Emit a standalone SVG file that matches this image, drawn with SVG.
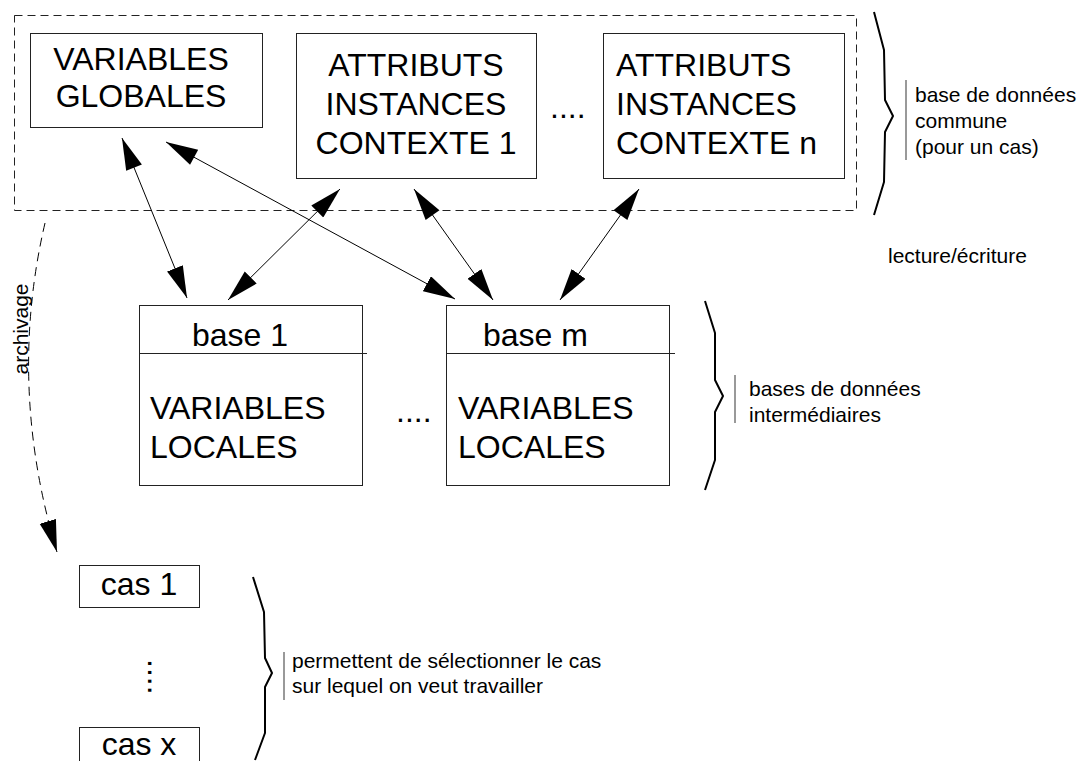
<svg xmlns="http://www.w3.org/2000/svg" width="1084" height="761" viewBox="0 0 1084 761">
<style>
.box{fill:#fff;stroke:#222;stroke-width:1}
.big{font-family:"Liberation Sans",Arial,sans-serif;font-size:32px;fill:#000}
.small{font-family:"Liberation Sans",Arial,sans-serif;font-size:21px;fill:#000}
.con{stroke:#000;stroke-width:1;fill:none}
.brace{stroke:#000;stroke-width:2;fill:none;stroke-linejoin:round}
.sep{stroke:#777;stroke-width:1.5}
</style>
<defs>
<marker id="ah" markerUnits="userSpaceOnUse" markerWidth="34" markerHeight="18" refX="32" refY="8.5" orient="auto"><path d="M0,0 L32,8.5 L0,17 z" fill="#000"/></marker>
<marker id="at" markerUnits="userSpaceOnUse" markerWidth="34" markerHeight="18" refX="0" refY="8.5" orient="auto"><path d="M32,0 L0,8.5 L32,17 z" fill="#000"/></marker>
</defs>
<rect width="1084" height="761" fill="#fff"/>
<g id="common-db">
<rect x="14.5" y="15.5" width="842" height="195" fill="none" stroke="#222" stroke-width="1" stroke-dasharray="8,5"/>
</g>
<g id="variables-globales">
<rect class="box" x="30.5" y="33.5" width="232" height="94"/>
<text class="big" x="141" y="70" text-anchor="middle">VARIABLES</text>
<text class="big" x="141" y="107" text-anchor="middle">GLOBALES</text>
</g>
<g id="attributs-1">
<rect class="box" x="296.5" y="33.5" width="240" height="145"/>
<text class="big" x="416" y="76" text-anchor="middle">ATTRIBUTS</text>
<text class="big" x="416" y="115" text-anchor="middle">INSTANCES</text>
<text class="big" x="416" y="154" text-anchor="middle">CONTEXTE 1</text>
</g>
<text class="big" x="550" y="118">....</text>
<g id="attributs-n">
<rect class="box" x="603.5" y="33.5" width="241" height="145"/>
<text class="big" x="616" y="76">ATTRIBUTS</text>
<text class="big" x="616" y="115">INSTANCES</text>
<text class="big" x="616" y="154">CONTEXTE n</text>
</g>
<g id="base-1">
<rect class="box" x="139.5" y="305.5" width="223" height="180"/>
<line x1="139" y1="353.5" x2="367" y2="353.5" stroke="#222" stroke-width="1"/>
<text class="big" x="192" y="346">base 1</text>
<text class="big" x="150" y="419">VARIABLES</text>
<text class="big" x="150" y="458">LOCALES</text>
</g>
<text class="big" x="396" y="422">....</text>
<g id="base-m">
<rect class="box" x="446.5" y="305.5" width="223" height="180"/>
<line x1="446" y1="353.5" x2="675" y2="353.5" stroke="#222" stroke-width="1"/>
<text class="big" x="483" y="346">base m</text>
<text class="big" x="458" y="419">VARIABLES</text>
<text class="big" x="458" y="458">LOCALES</text>
</g>
<g id="cas-1">
<rect class="box" x="79.5" y="565.5" width="120" height="42"/>
<text class="big" x="139" y="595" text-anchor="middle">cas 1</text>
</g>
<text class="big" transform="translate(147.5,659) rotate(90)">....</text>
<g id="cas-x">
<rect class="box" x="79.5" y="727.5" width="120" height="50"/>
<text class="big" x="139" y="755" text-anchor="middle">cas x</text>
</g>
<g id="annotations">
<polyline class="brace" points="874,12 884,50 885,100 893,116 885,132 884,182 874,215"/>
<line class="sep" x1="906" y1="80" x2="906" y2="160"/>
<text class="small" x="915" y="102">base de données</text>
<text class="small" x="915" y="128">commune</text>
<text class="small" x="915" y="154">(pour un cas)</text>
<text class="small" x="888" y="263">lecture/écriture</text>
<polyline class="brace" points="705,301 715,333 715,380 723,396 715,412 715,460 705,490"/>
<line class="sep" x1="735" y1="375" x2="735" y2="423"/>
<text class="small" x="749" y="396">bases de données</text>
<text class="small" x="749" y="422">intermédiaires</text>
<polyline class="brace" points="253,577 264,612 265,658 272,673 265,687 265,733 255,760"/>
<line class="sep" x1="284" y1="652" x2="284" y2="700"/>
<text class="small" x="292" y="668">permettent de sélectionner le cas</text>
<text class="small" x="292" y="693">sur lequel on veut travailler</text>
<text class="small" transform="translate(28,329) rotate(-90)" text-anchor="middle">archivage</text>
</g>
<g id="connectors">
<line class="con" x1="122" y1="138" x2="187" y2="298" marker-start="url(#at)" marker-end="url(#ah)"/>
<line class="con" x1="166" y1="142" x2="455" y2="299" marker-start="url(#at)" marker-end="url(#ah)"/>
<line class="con" x1="340" y1="189" x2="228" y2="300" marker-start="url(#at)" marker-end="url(#ah)"/>
<line class="con" x1="414" y1="189" x2="493" y2="300" marker-start="url(#at)" marker-end="url(#ah)"/>
<line class="con" x1="639" y1="189" x2="560" y2="300" marker-start="url(#at)" marker-end="url(#ah)"/>
<path class="con" d="M45,223 Q7,386 57,552" stroke-dasharray="9,6" marker-end="url(#ah)"/>
</g>
</svg>
